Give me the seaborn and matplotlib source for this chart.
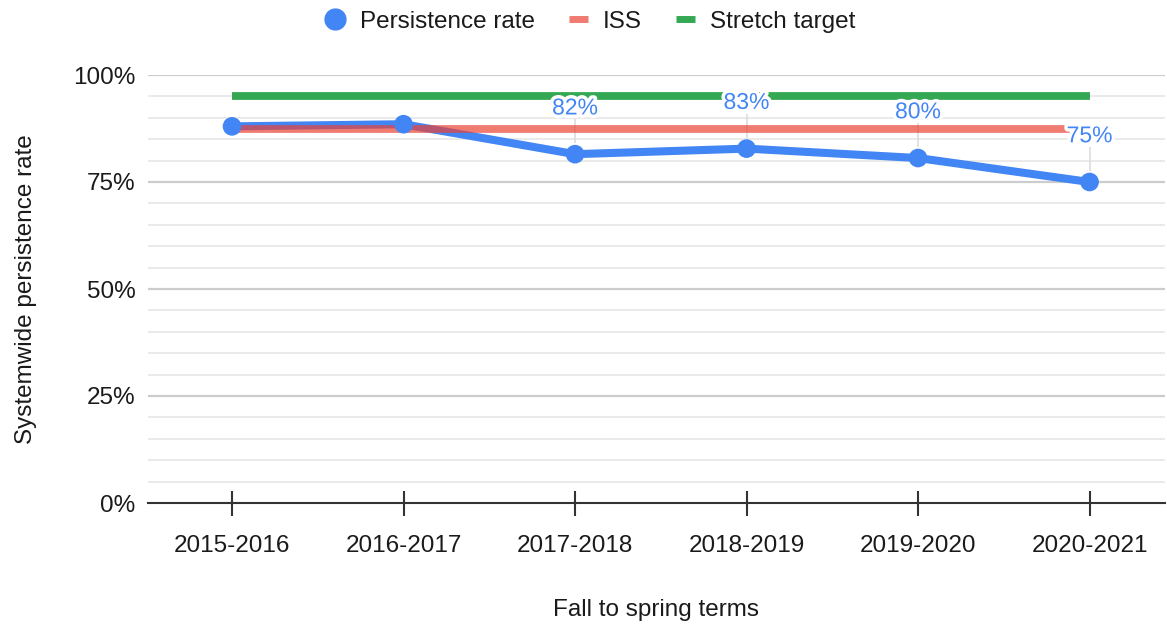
import numpy as np
import pandas as pd
import seaborn as sns
import matplotlib
matplotlib.use("Agg")
import matplotlib.pyplot as plt
from matplotlib.lines import Line2D
import matplotlib.patheffects as pe

terms = ["2015-2016", "2016-2017", "2017-2018", "2018-2019", "2019-2020", "2020-2021"]
persistence = [88, 88.5, 81.5, 82.8, 80.6, 75]
iss = [87.3, 87.3, 87.3, 87.3, 87.3, 87.3]
stretch = [95, 95, 95, 95, 95, 95]
point_labels = ["", "", "82%", "83%", "80%", "75%"]
y_ticks = [0, 25, 50, 75, 100]
y_tick_labels = ["0%", "25%", "50%", "75%", "100%"]

BLUE = "#4285F4"
RED = "#EA4335"
GREEN = "#34A853"
TXT = "#1a1a1a"

sns.set_theme(style="white")
plt.rcParams["font.family"] = ["Liberation Sans", "DejaVu Sans"]

df = pd.DataFrame({"pos": np.arange(len(terms)), "term": terms,
                   "persistence": persistence, "iss": iss, "stretch": stretch})

fig = plt.figure(figsize=(11.67, 6.25), dpi=100)
ax = fig.add_axes([0.1268, 0.1952, 0.8715, 0.6848])

# minor gridlines every 5%
for v in range(5, 100, 5):
    ax.axhline(v, color="#e6e6e6", lw=1.2, zorder=0)
for v in [25, 50, 75, 100]:
    ax.axhline(v, color="#cccccc", lw=1.6, zorder=0)

sns.lineplot(data=df, x="pos", y="stretch", ax=ax, color=GREEN, lw=5.6,
             solid_capstyle="butt", zorder=2)
sns.lineplot(data=df, x="pos", y="persistence", ax=ax, color=BLUE, lw=5.8,
             solid_capstyle="round", zorder=3)
sns.lineplot(data=df, x="pos", y="iss", ax=ax, color=RED, alpha=0.7, lw=5.6,
             solid_capstyle="butt", zorder=4)
sns.scatterplot(data=df, x="pos", y="persistence", ax=ax, color=BLUE, s=180,
                edgecolor="none", zorder=5)

# data labels with leader lines
for i, (val, lab) in enumerate(zip(persistence, point_labels)):
    if not lab:
        continue
    ax.vlines(i, val + 2.5, val + 8.2, color="#dddddd", lw=1.2, zorder=1)
    ax.text(i, val + 10.8, lab, ha="center", va="center", fontsize=16.5,
            color=BLUE, zorder=6,
            path_effects=[pe.withStroke(linewidth=5, foreground="white")])

ax.set_ylim(0, 100)
ax.set_xlim(-0.49, 5.44)
ax.set_yticks(y_ticks)
ax.set_yticklabels(y_tick_labels, fontsize=17.5, color=TXT)
ax.set_xticks(df["pos"])
ax.set_xticklabels(terms, fontsize=17.5, color=TXT)
ax.tick_params(axis="y", length=0, pad=9)
ax.tick_params(axis="x", direction="inout", length=18, width=1.5, color="#333333",
               pad=14, bottom=True)
for s in ["top", "right", "left"]:
    ax.spines[s].set_visible(False)
ax.spines["bottom"].set_color("#333333")
ax.spines["bottom"].set_linewidth(1.5)
ax.spines["bottom"].set_zorder(7)

ax.set_xlabel("Fall to spring terms", fontsize=17.5, color=TXT, labelpad=30)
ax.set_ylabel("Systemwide persistence rate", fontsize=17.5, color=TXT, labelpad=26)

handles = [
    Line2D([], [], marker="o", color=BLUE, markersize=15, lw=0),
    Line2D([], [], color=RED, alpha=0.7, lw=5, solid_capstyle="butt"),
    Line2D([], [], color=GREEN, lw=5, solid_capstyle="butt"),
]
fig.legend(handles, ["Persistence rate", "ISS", "Stretch target"], loc="upper center",
           bbox_to_anchor=(0.506, 1.018), ncol=3, frameon=False, fontsize=17.5,
           handlelength=0.8, handletextpad=0.6, columnspacing=1.4, labelcolor=TXT)

fig.savefig("out.png", dpi=100)
